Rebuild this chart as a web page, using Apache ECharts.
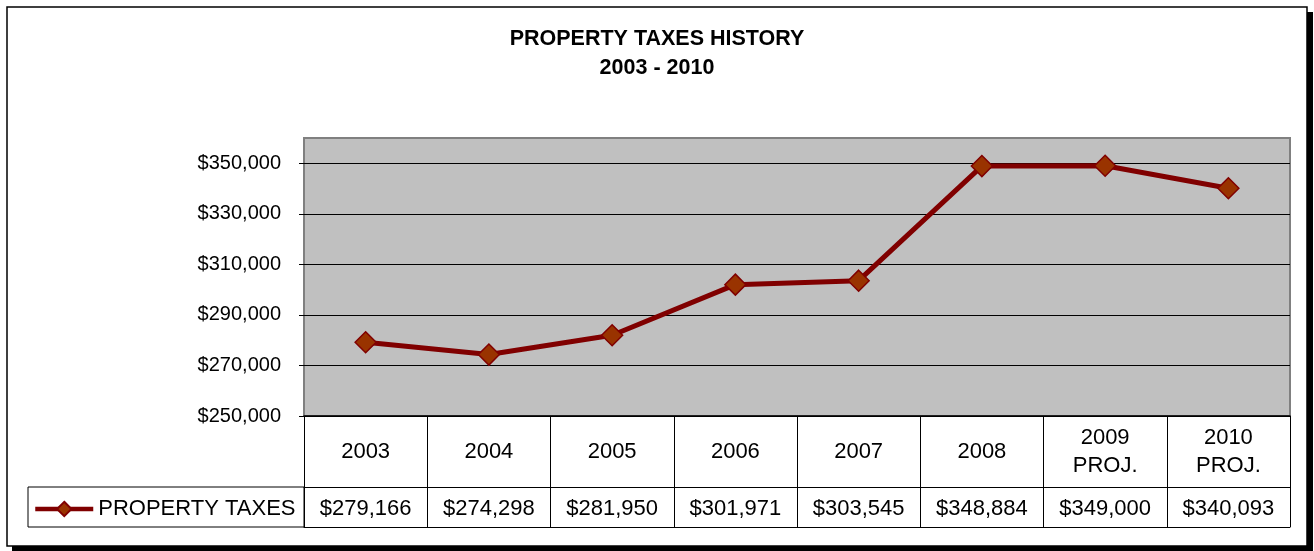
<!DOCTYPE html>
<html>
<head>
<meta charset="utf-8">
<title>Property Taxes History</title>
<script src="https://cdn.jsdelivr.net/npm/echarts@6/dist/echarts.min.js"></script>
<style>
  html, body { margin: 0; padding: 0; background: #fff; }
  #chart { width: 1314px; height: 551px; }
</style>
</head>
<body>
<div id="chart"></div>
<script>
// Property tax collections by year (last two years are projections)
const categories = ['2003', '2004', '2005', '2006', '2007', '2008', '2009\nPROJ.', '2010\nPROJ.'];
const propertyTaxes = [279166, 274298, 281950, 301971, 303545, 348884, 349000, 340093];
const yTickValues = [250000, 270000, 290000, 310000, 330000, 350000];
const seriesName = 'PROPERTY TAXES';

const FONT = "'Liberation Sans', Arial, sans-serif";
const money = v => '$' + Number(v).toLocaleString('en-US');

// Layout of the plot box and the data table underneath it
const PLOT = { left: 304, right: 24, top: 138, bottom: 135 };
const ROW1 = 71;   // height of the category row
const ROW2 = 40;   // height of the value row
const axisBottomY = 551 - PLOT.bottom;
const TABLE_FONT = 22;

const chart = echarts.init(document.getElementById('chart'), null, { renderer: 'canvas' });

chart.setOption({
  animation: false,
  backgroundColor: 'transparent',
  textStyle: { fontFamily: FONT },
  graphic: [
    // frame with a hard drop shadow
    { type: 'rect', z: -10, shape: { x: 12, y: 12, width: 1301, height: 539 }, style: { fill: '#000' } },
    { type: 'rect', z: -9, shape: { x: 7, y: 7, width: 1300, height: 539 }, style: { fill: '#fff', stroke: '#000', lineWidth: 1.5 } },
    // legend key cell of the data table
    { type: 'rect', z: 5, shape: { x: 28, y: axisBottomY + ROW1, width: PLOT.left - 28, height: ROW2 },
      style: { fill: 'none', stroke: '#000', lineWidth: 1 } }
  ],
  title: {
    text: 'PROPERTY TAXES HISTORY\n2003 - 2010',
    left: 'center',
    top: 20,
    textStyle: { fontFamily: FONT, fontSize: 21.5, fontWeight: 'bold', color: '#000', lineHeight: 29 }
  },
  legend: {
    data: [seriesName],
    left: 33,
    top: axisBottomY + ROW1 + 11,
    padding: 0,
    itemWidth: 58,
    itemHeight: 18,
    itemGap: 0,
    lineStyle: { width: 4.5, color: '#800000' },
    textStyle: { fontFamily: FONT, fontSize: TABLE_FONT, color: '#000', padding: [0, 0, 0, 0] }
  },
  grid: {
    left: PLOT.left, right: PLOT.right, top: PLOT.top, bottom: PLOT.bottom,
    show: true,
    backgroundColor: '#C0C0C0',
    borderColor: '#808080',
    borderWidth: 2,
    containLabel: false
  },
  xAxis: [
    {
      // category row of the table
      type: 'category',
      data: categories,
      position: 'bottom',
      axisLine: { show: true, lineStyle: { color: '#000', width: 1.5 } },
      axisTick: { show: true, interval: 0, length: ROW1 + ROW2, lineStyle: { color: '#000', width: 1 } },
      axisLabel: {
        interval: 0, margin: ROW1 / 2, verticalAlign: 'middle', lineHeight: 28,
        fontFamily: FONT, fontSize: TABLE_FONT, color: '#000'
      },
      splitLine: { show: false }
    },
    {
      // value row of the table
      type: 'category',
      data: propertyTaxes.map(money),
      position: 'bottom',
      offset: ROW1,
      axisLine: { show: true, lineStyle: { color: '#000', width: 1 } },
      axisTick: { show: false },
      axisLabel: {
        interval: 0, margin: ROW2 / 2 + 2, verticalAlign: 'middle',
        fontFamily: FONT, fontSize: TABLE_FONT, color: '#000'
      },
      splitLine: { show: false }
    },
    {
      // bottom edge of the table
      type: 'category',
      data: categories,
      position: 'bottom',
      offset: ROW1 + ROW2,
      axisLine: { show: true, lineStyle: { color: '#000', width: 1 } },
      axisTick: { show: false },
      axisLabel: { show: false },
      splitLine: { show: false }
    }
  ],
  yAxis: {
    type: 'value',
    min: 250000,
    max: 360000,
    axisLine: { show: false },
    axisTick: { show: true, length: 5, customValues: yTickValues, lineStyle: { color: '#000' } },
    axisLabel: {
      customValues: yTickValues,
      margin: 23,
      formatter: money,
      fontFamily: FONT, fontSize: 20, color: '#000'
    },
    splitLine: { show: true, lineStyle: { color: '#000', width: 1 } }
  },
  series: [
    {
      name: seriesName,
      type: 'line',
      xAxisIndex: 0,
      data: propertyTaxes,
      symbol: 'diamond',
      symbolSize: 21,
      z: 10,
      lineStyle: { color: '#800000', width: 5 },
      itemStyle: { color: '#993300', borderColor: '#800000', borderWidth: 1.5 },
      emphasis: { disabled: true }
    }
  ]
});
</script>
</body>
</html>
